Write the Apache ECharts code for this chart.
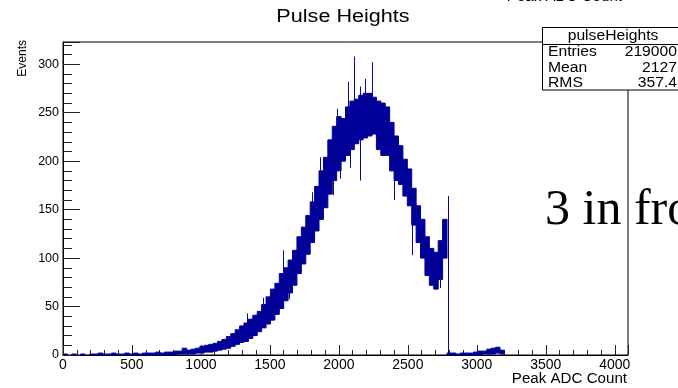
<!DOCTYPE html>
<html>
<head>
<meta charset="utf-8">
<script src="https://cdn.jsdelivr.net/npm/echarts@6/dist/echarts.min.js"></script>
<style>
  html, body { margin: 0; padding: 0; background: #fff; }
  #chart { width: 678px; height: 388px; }
</style>
</head>
<body>
<div id="chart"></div>
<script>
// Histogram of peak ADC counts, summarised as the lowest and highest bin
// content inside each 32-count slice of the ADC range.
const binWidth = 32;
const binLow = [
  0, 0, 0, 0, 0, 0, 0, 0, 0, 0, 0, 0, 0, 0, 0, 0,
  0, 0, 0, 0, 0, 0, 0, 0, 0, 0, 1, 1, 1, 1, 2, 2,
  3, 3, 4, 5, 6, 7, 9, 11, 13, 14, 17, 20, 24, 28, 32, 36,
  42, 48, 56, 64, 72, 84, 94, 104, 116, 128, 140, 152, 166, 180, 190, 200,
  206, 212, 218, 222, 224, 226, 228, 212, 206, 206, 190, 180, 176, 164, 154, 134,
  116, 100, 82, 72, 68, 78, 100, 0, 0, 0, 0, 0, 0, 0, 0, 1,
  1, 1, 2, 1
];
const binHigh = [
  1, 0, 1, 0, 1, 0, 1, 1, 2, 1, 1, 2, 1, 1, 2, 1,
  2, 1, 2, 2, 2, 3, 2, 3, 3, 4, 4, 7, 5, 6, 7, 9,
  10, 11, 12, 14, 16, 19, 22, 26, 30, 33, 37, 41, 45, 52, 60, 68,
  74, 84, 90, 98, 108, 122, 132, 144, 158, 174, 190, 204, 222, 236, 246, 244,
  256, 262, 264, 268, 270, 270, 266, 262, 260, 256, 240, 226, 216, 202, 192, 172,
  154, 140, 122, 110, 106, 118, 140, 2, 2, 1, 2, 2, 2, 3, 4, 4,
  6, 7, 8, 5
];

// Single bins that stand out from the band (ADC value, from, to).
const spikeX    = [1331, 1452, 1597, 1635, 1802, 1863, 1960, 1984, 2009, 2068, 2081, 2110, 2153, 2153, 2189, 2238, 2397, 2533, 2734, 2788];
const spikeFrom = [  30,   50,   85,   58,  150,  185,  165,  240,  182,  250,  193,  255,  262,  180,  265,  262,  160,  103,   69,    0];
const spikeTo   = [  43,   59,  108,   70,  168,  204,  185,  254,  200,  282,  215,  308,  277,  225,  285,  302,  185,  140,   85,  164];

const xTickLabels = [0, 500, 1000, 1500, 2000, 2500, 3000, 3500, 4000];
const yTickLabels = [0, 50, 100, 150, 200, 250, 300];

const statLabels = ['Entries', 'Mean', 'RMS'];
const statValues = ['219000', '2127', '357.4'];
const histName = 'pulseHeights';

const FONT = '"Liberation Sans", Arial, Helvetica, sans-serif';
const LINE = '#0a0a8f';
const FILL = '#000099';

const bandData = [];
binLow.forEach((lo, i) => {
  const hi = binHigh[i];
  if (hi > 0) bandData.push([i * binWidth, (i + 1) * binWidth, lo, hi]);
});
const spikeData = spikeX.map((x, i) => [x, spikeFrom[i], spikeTo[i]]);

const chart = echarts.init(document.getElementById('chart'), null, { renderer: 'canvas' });

const xMajor = xTickLabels[1] - xTickLabels[0];
const yMajor = yTickLabels[1] - yTickLabels[0];

chart.setOption({
  animation: false,
  backgroundColor: '#ffffff',
  grid: {
    left: 63, right: 50, top: 42, bottom: 33,
    show: true, borderColor: '#000', borderWidth: 1, backgroundColor: 'transparent'
  },
  xAxis: [
    {
      type: 'value', min: 0, max: 4096, interval: xMajor, position: 'bottom',
      axisLine: { show: true, lineStyle: { color: '#000', width: 1 } },
      axisTick: { show: true, inside: true, length: 10, lineStyle: { color: '#222' } },
      axisLabel: {
        show: true, color: '#000', fontFamily: FONT, fontSize: 14, margin: 3,
        formatter: v => (xTickLabels.indexOf(v) >= 0 ? String(v) : '')
      },
      splitLine: { show: false }
    },
    {
      type: 'value', min: 0, max: 4096, interval: 100, position: 'bottom',
      axisLine: { show: false },
      axisTick: { show: true, inside: true, length: 5, lineStyle: { color: '#222' } },
      axisLabel: { show: false },
      splitLine: { show: false }
    }
  ],
  yAxis: [
    {
      type: 'value', min: 0, max: 323, interval: yMajor, position: 'left',
      axisLine: { show: true, lineStyle: { color: '#000', width: 1 } },
      axisTick: { show: true, inside: true, length: 17, lineStyle: { color: '#222' } },
      axisLabel: {
        show: true, color: '#000', fontFamily: FONT, fontSize: 12.5, margin: 4,
        formatter: v => (yTickLabels.indexOf(v) >= 0 ? String(v) : '')
      },
      splitLine: { show: false }
    },
    {
      type: 'value', min: 0, max: 323, interval: 10, position: 'left',
      axisLine: { show: false },
      axisTick: { show: true, inside: true, length: 9, lineStyle: { color: '#222' } },
      axisLabel: { show: false },
      splitLine: { show: false }
    }
  ],
  series: [
    {
      type: 'custom',
      name: histName,
      xAxisIndex: 0, yAxisIndex: 0,
      encode: { x: [0, 1], y: [2, 3] },
      data: bandData,
      renderItem: (params, api) => {
        const a = api.coord([api.value(0), api.value(3)]);
        const b = api.coord([api.value(1), api.value(2)]);
        return {
          type: 'rect',
          shape: { x: a[0], y: a[1], width: b[0] - a[0], height: Math.max(b[1] - a[1], 1) },
          style: { fill: FILL, stroke: FILL, lineWidth: 1 }
        };
      }
    },
    {
      type: 'custom',
      name: histName + ' spikes',
      xAxisIndex: 0, yAxisIndex: 0,
      encode: { x: 0, y: [1, 2] },
      data: spikeData,
      renderItem: (params, api) => {
        const a = api.coord([api.value(0), api.value(1)]);
        const b = api.coord([api.value(0), api.value(2)]);
        const x = Math.round(a[0]) + 0.5;
        return {
          type: 'line',
          shape: { x1: x, y1: a[1], x2: x, y2: b[1] },
          style: { stroke: LINE, lineWidth: 1 }
        };
      }
    }
  ],
  graphic: [
    // histogram title
    { type: 'text', x: 343, y: 17, scaleX: 1.2, z: 10,
      style: { text: 'Pulse Heights', font: '18px ' + FONT, fill: '#000', align: 'center', verticalAlign: 'middle' } },
    // leftover axis title peeking in at the top edge
    { type: 'text', x: 622, y: -3, scaleX: 1.08, z: 10,
      style: { text: 'Peak ADC Count', font: '14px ' + FONT, fill: '#000', align: 'right', verticalAlign: 'middle' } },
    // axis titles
    { type: 'text', x: 627, y: 379, scaleX: 1.08, z: 10,
      style: { text: 'Peak ADC Count', font: '14px ' + FONT, fill: '#000', align: 'right', verticalAlign: 'middle' } },
    { type: 'text', x: 23, y: 40, rotation: Math.PI / 2, z: 10,
      style: { text: 'Events', font: '12px ' + FONT, fill: '#000', align: 'right', verticalAlign: 'middle' } },
    // statistics box
    { type: 'rect', z: 20,
      shape: { x: 542.5, y: 27.5, width: 150, height: 62.5 },
      style: { fill: '#fff', stroke: '#000', lineWidth: 1 } },
    { type: 'line', z: 21,
      shape: { x1: 542.5, y1: 44.5, x2: 690, y2: 44.5 },
      style: { stroke: '#000', lineWidth: 1 } },
    { type: 'text', x: 613, y: 36, scaleX: 1.12, z: 22,
      style: { text: histName, font: '14px ' + FONT, fill: '#000', align: 'center', verticalAlign: 'middle' } },
    ...statLabels.map((t, i) => ({
      type: 'text', x: 548, y: 52.5 + i * 15.5, scaleX: 1.12, z: 22,
      style: { text: t, font: '14px ' + FONT, fill: '#000', align: 'left', verticalAlign: 'middle' }
    })),
    ...statValues.map((t, i) => ({
      type: 'text', x: 677, y: 52.5 + i * 15.5, scaleX: 1.12, z: 22,
      style: { text: t, font: '14px ' + FONT, fill: '#000', align: 'right', verticalAlign: 'middle' }
    })),
    // caption text laid over the right edge
    { type: 'text', x: 545, y: 211, z: 15,
      style: { text: '3 in fro', font: '50px "Liberation Serif", "Times New Roman", serif', fill: '#000', align: 'left', verticalAlign: 'middle' } }
  ]
});
</script>
</body>
</html>
